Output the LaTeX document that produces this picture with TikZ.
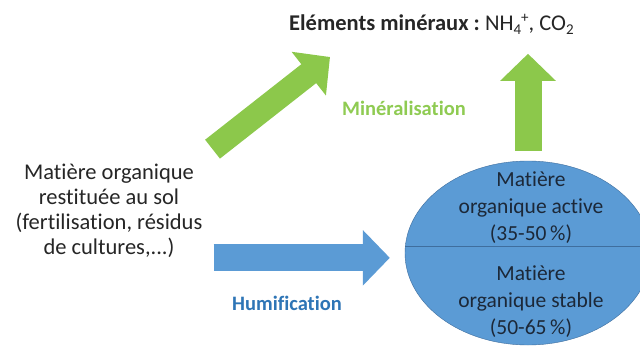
\documentclass[tikz,border=0pt]{standalone}
\usepackage{fontspec}
\setmainfont{Carlito}[Ligatures=NoCommon]
\usetikzlibrary{arrows.meta,shapes.geometric}

\definecolor{mingreen}{HTML}{8CC84B}
\definecolor{minlabel}{HTML}{8FCB52}
\definecolor{humblue}{HTML}{5B9BD5}
\definecolor{humlabel}{HTML}{2E75B6}
\definecolor{poolblue}{HTML}{5B9BD5}
\definecolor{poolline}{HTML}{3F6E9E}
\definecolor{pooltext}{HTML}{1C2838}
\definecolor{textgray}{HTML}{262626}

\newcommand{\subs}[1]{\raisebox{-0.35ex}{\fontsize{15}{15}\selectfont #1}}
\newcommand{\sups}[1]{\raisebox{0.75ex}{\fontsize{15}{15}\selectfont #1}}

\begin{document}
\begin{tikzpicture}[x=1pt,y=1pt,
    txt/.style={align=flush center,font=\fontsize{22.5}{25}\selectfont,text=textgray},
    pooltxt/.style={align=flush center,font=\fontsize{21.5}{27}\selectfont,text=pooltext},
    lbl/.style={font=\fontsize{20.5}{25}\selectfont\bfseries},
    fatarrow/.style={line width=27pt,-{Triangle[length=27pt,width=54pt]}}]

\useasboundingbox[fill=white] (0,0) rectangle (640,349);

% Texts
\node[txt,anchor=west,inner sep=0pt] (elem) at (289,325) {\textbf{Eléments minéraux :}\ NH\subs{4}\sups{+}, CO\subs{2}};
\node[txt,text width=208pt] (org) at (109,138.5) {Matière organique\\restituée au sol\\(fertilisation, résidus\\de cultures,...)};
\node[lbl,text=minlabel] (mineral) at (404,241) {Minéralisation};
\node[lbl,text=humlabel] (humif) at (287,46) {Humification};
\coordinate (mtip) at (330,292);

% Soil organic matter
\node[ellipse,draw=poolline,fill=poolblue,minimum width=246pt,minimum height=184pt,inner sep=0pt] (pool) at (528,96) {};
\draw[poolline] ([yshift=7pt]pool.west) -- ([yshift=7pt]pool.east);
\node[pooltxt] (active) at (531,141.5) {Matière\\organique active\\(35-50\,\%)};
\node[pooltxt] (stable) at (531,47.5) {Matière\\organique stable\\(50-65\,\%)};

% Arrows
\draw[fatarrow,line width=24pt,mingreen] ([shift={(-4,11)}]org.north east) -- (mtip);
\draw[fatarrow,mingreen] ([yshift=10pt]pool.north) -- ++(0,97);
\draw[fatarrow,humblue,shorten >=15pt] ([shift={(-3,3)}]org.south east) coordinate (htail) -- (htail -| pool.west);

\end{tikzpicture}
\end{document}
